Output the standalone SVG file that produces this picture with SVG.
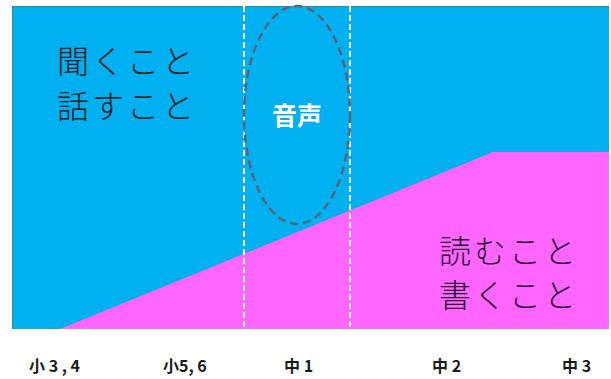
<svg xmlns="http://www.w3.org/2000/svg" width="611" height="379" viewBox="0 0 611 379">
<style>
.big{font-family:"Noto Sans CJK JP","Noto Sans",sans-serif;font-size:32px;font-weight:300;letter-spacing:3px}
.lab{font-family:"Noto Sans CJK JP","Noto Sans",sans-serif;font-size:16px;font-weight:700;fill:#1a1a1a}
.sep{stroke:#ffffff;stroke-width:2;stroke-dasharray:6,3;fill:none}
</style>
<rect width="611" height="379" fill="#ffffff"/>
<g id="listening-area">
<rect x="12" y="6" width="597" height="323" fill="#00B0F0"/>
<line x1="12" y1="6.5" x2="609" y2="6.5" stroke="#2f8f86" stroke-width="1"/>
<line x1="12.5" y1="6" x2="12.5" y2="329" stroke="#2f8f86" stroke-width="1"/>
</g>
<g id="reading-area">
<polygon points="60,329 493,152 609,152 609,329" fill="#FF66FF"/>
</g>
<g id="connectors">
<line class="sep" x1="244" y1="6" x2="244" y2="329"/>
<line class="sep" x1="350" y1="6" x2="350" y2="329"/>
</g>
<g id="voice">
<ellipse cx="297" cy="115" rx="53" ry="109" fill="none" stroke="#5a6478" stroke-width="2.5" stroke-dasharray="8,5"/>
<text x="297" y="125" text-anchor="middle" font-family="Noto Sans CJK JP,sans-serif" font-size="25" font-weight="700" fill="#ffffff">音声</text>
</g>
<g id="listen-speak">
<text class="big" x="57" y="73" fill="#1a1a1a">聞くこと</text>
<text class="big" x="57" y="118" fill="#1a1a1a">話すこと</text>
</g>
<g id="read-write">
<text class="big" x="439" y="263" fill="#2a0f35">読むこと</text>
<text class="big" x="439" y="307" fill="#2a0f35">書くこと</text>
</g>
<g id="axis-labels">
<text class="lab" x="29" y="372">小 3 , 4</text>
<text class="lab" x="163" y="372">小5, 6</text>
<text class="lab" x="284" y="372">中 1</text>
<text class="lab" x="432" y="372">中 2</text>
<text class="lab" x="562" y="372">中 3</text>
</g>
</svg>
